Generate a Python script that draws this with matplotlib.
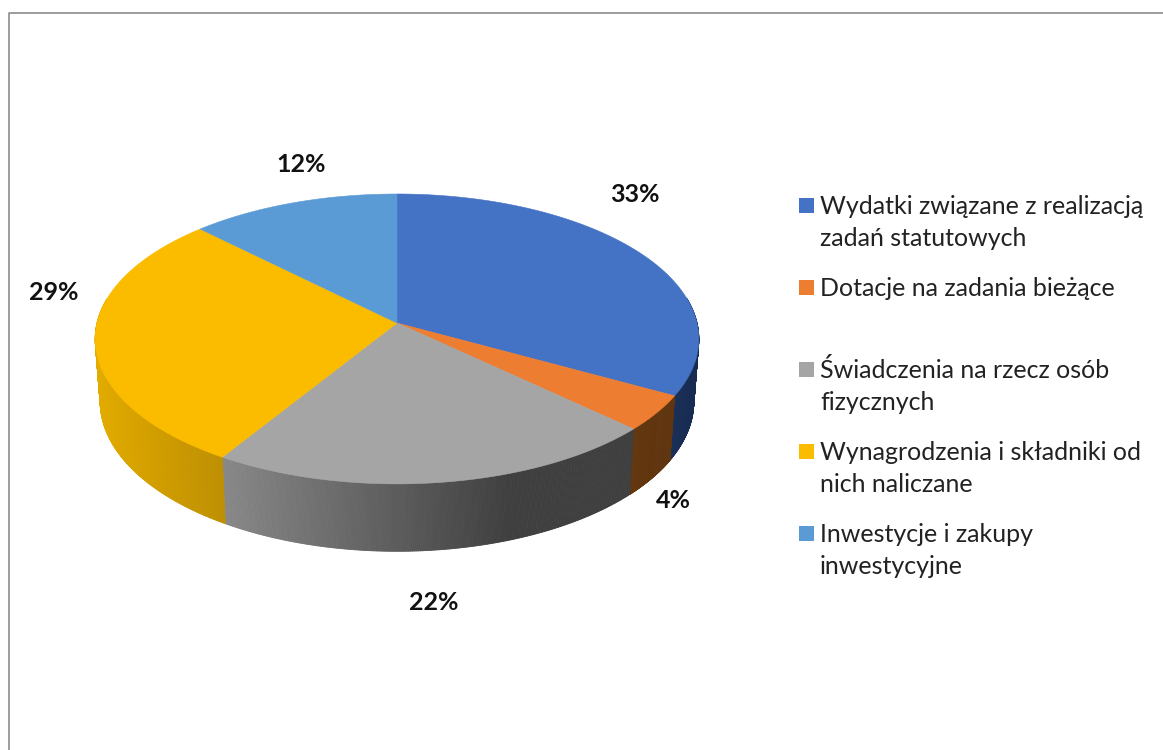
import numpy as np
import matplotlib
matplotlib.use("Agg")
import matplotlib.pyplot as plt
from matplotlib.collections import PolyCollection
from matplotlib.patches import Polygon, Rectangle

plt.rcParams['font.family'] = ['Lato', 'DejaVu Sans']

categories = ["Wydatki związane z realizacją\nzadań statutowych",
              "Dotacje na zadania bieżące",
              "Świadczenia na rzecz osób\nfizycznych",
              "Wynagrodzenia i składniki od\nnich naliczane",
              "Inwestycje i zakupy\ninwestycyjne"]
values = [33.0, 4.0, 21.85, 28.65, 12.5]
pct_labels = ["33%", "4%", "22%", "29%", "12%"]
colors = ["#4472C4", "#ED7D31", "#A5A5A5", "#FBBC00", "#5B9BD5"]

# side wall shading, left colour -> right colour for each slice
wall_left = ["#1B3058", "#63370F", "#888888", "#E2AB00", "#5B9BD5"]
wall_right = ["#172A50", "#5F3510", "#3F3F3F", "#BD8E00", "#5B9BD5"]
# x where the shading stops changing
wall_end = [700, 680, 510, 225, 400]

label_pos = [(635, 195), (673, 500), (434, 603), (54, 292), (301, 165)]

CX = 397
K = 0.11


def rim(angle, a, cy, b):
    # angle clockwise from the top, circle seen in perspective
    u = np.sin(angle)
    v = np.cos(angle)
    w = 1 + K * v
    return CX + a * u / w, cy - b * v / w


def rgb(c):
    return np.array(matplotlib.colors.to_rgb(c))


fig = plt.figure(figsize=(11.63, 7.5), dpi=100)
ax = fig.add_axes([0, 0, 1, 1])
ax.set_xlim(0, 1163)
ax.set_ylim(750, 0)
ax.axis("off")

# chart frame
ax.plot([8.5, 8.5, 1163], [750, 12.5, 12.5], color="#8C8C8C", lw=1.2)

edges = np.cumsum([0] + values) / sum(values) * 2 * np.pi

# walls first, the top covers whatever is behind
for i in range(len(values)):
    lo = max(edges[i], np.radians(80))
    hi = min(edges[i + 1], np.radians(280))
    if hi <= lo:
        continue
    t = np.linspace(lo, hi, 240)
    xt, yt = rim(t, 300, 323, 143.2)
    xb, yb = rim(t, 295, 385, 148)
    quads = []
    cols = []
    for j in range(len(t) - 1):
        quads.append([(xt[j], yt[j]), (xt[j + 1], yt[j + 1]), (xb[j + 1], yb[j + 1]), (xb[j], yb[j])])
        f = np.clip((xt[j] - xt.min()) / (wall_end[i] - xt.min()), 0, 1)
        cols.append(rgb(wall_left[i]) * (1 - f) + rgb(wall_right[i]) * f)
    ax.add_collection(PolyCollection(quads, facecolors=cols, edgecolors=cols, linewidths=0.6))

# top face
for i in range(len(values)):
    t = np.linspace(edges[i], edges[i + 1], 200)
    xt, yt = rim(t, 300, 323, 143.2)
    pts = [(CX, 323)] + list(zip(xt, yt))
    ax.add_patch(Polygon(pts, closed=True, facecolor=colors[i], edgecolor=colors[i], lw=0.4))

for txt, (x, y) in zip(pct_labels, label_pos):
    ax.text(x, y, txt, ha="center", va="center", fontsize=18, fontweight="bold", color="#111111")

# legend
for i, name in enumerate(categories):
    y = 205 + 82 * i
    ax.add_patch(Rectangle((799, y - 7.5), 15, 15, facecolor=colors[i], edgecolor="none"))
    for j, line in enumerate(name.split("\n")):
        ax.text(820, y + 8.5 + 33 * j, line, ha="left", va="baseline", fontsize=18, color="#222222")

fig.savefig("out.png", dpi=100)
